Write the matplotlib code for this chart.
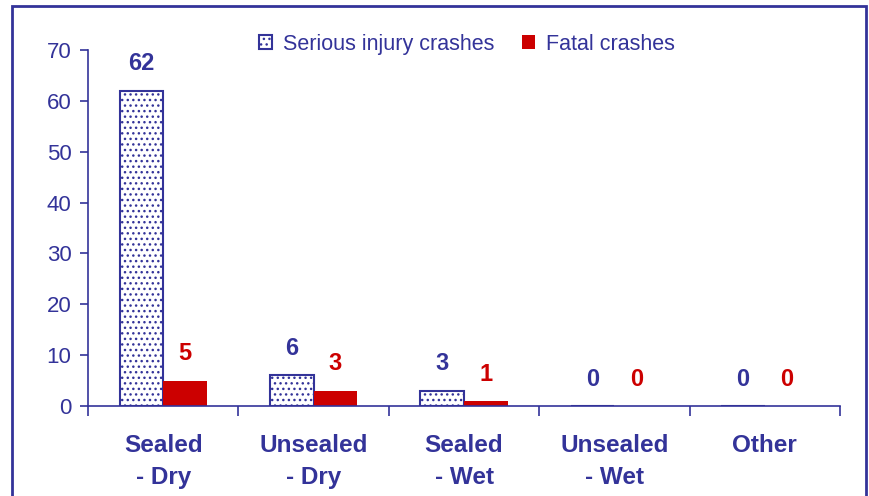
import numpy as np
import matplotlib
matplotlib.use('Agg')
import matplotlib.pyplot as plt
from matplotlib.patches import Rectangle

categories = ['Sealed\n- Dry', 'Unsealed\n- Dry', 'Sealed\n- Wet', 'Unsealed\n- Wet', 'Other']
serious = [62, 6, 3, 0, 0]
fatal = [5, 3, 1, 0, 0]

BLUE = '#333399'
RED = '#CC0000'

plt.rcParams['font.family'] = ['Liberation Sans', 'DejaVu Sans']
plt.rcParams['hatch.color'] = BLUE
plt.rcParams['hatch.linewidth'] = 1.0

fig = plt.figure(figsize=(8.69, 4.96), dpi=100)
ax = fig.add_axes([0.1013, 0.1815, 0.8653, 0.7177])

x = np.arange(len(categories))
w = 0.29
ax.bar(x - w / 2, serious, w, facecolor='white', edgecolor=BLUE,
       hatch='...', linewidth=1.5, label='Serious injury crashes')
ax.bar(x + w / 2, fatal, w, color=RED, edgecolor=RED, linewidth=0,
       label='Fatal crashes')

for xi, v in zip(x, serious):
    ax.annotate(str(v), (xi - w / 2, v), xytext=(0, 11), textcoords='offset points',
                ha='center', va='bottom', fontsize=17, fontweight='bold', color=BLUE)
for xi, v in zip(x, fatal):
    ax.annotate(str(v), (xi + w / 2, v), xytext=(0, 11), textcoords='offset points',
                ha='center', va='bottom', fontsize=17, fontweight='bold', color=RED)

ax.set_xlim(-0.5, len(categories) - 0.5)
ax.set_ylim(0, 70)
ax.set_yticks(range(0, 71, 10))
ax.set_xticks(x)
ax.set_xticklabels(categories, fontsize=17.5, fontweight='bold', color=BLUE,
                   linespacing=1.5)
ax.set_xticks(np.arange(-0.5, len(categories), 1), minor=True)
ax.tick_params(axis='x', which='major', length=0, pad=20)
ax.tick_params(axis='x', which='minor', length=7, width=1.2, color=BLUE, direction='out')
ax.tick_params(axis='y', length=6, width=1.2, color=BLUE, labelsize=16,
               labelcolor=BLUE, pad=6)

for s in ['top', 'right']:
    ax.spines[s].set_visible(False)
for s in ['left', 'bottom']:
    ax.spines[s].set_color(BLUE)
    ax.spines[s].set_linewidth(1.2)
    ax.spines[s].set_zorder(3)

leg = ax.legend(loc='upper center', bbox_to_anchor=(0.504, 1.1), ncol=2, frameon=False,
                fontsize=15.5, handlelength=0.6, handleheight=0.6, handletextpad=0.5,
                columnspacing=1.3)
for t in leg.get_texts():
    t.set_color(BLUE)

frame = Rectangle((12 / 869, -0.05), (866 - 12) / 869, 1 - 6 / 496 + 0.05,
                  transform=fig.transFigure, fill=False, edgecolor=BLUE,
                  linewidth=2, clip_on=False)
fig.patches.append(frame)

fig.savefig('out.png', dpi=100)
